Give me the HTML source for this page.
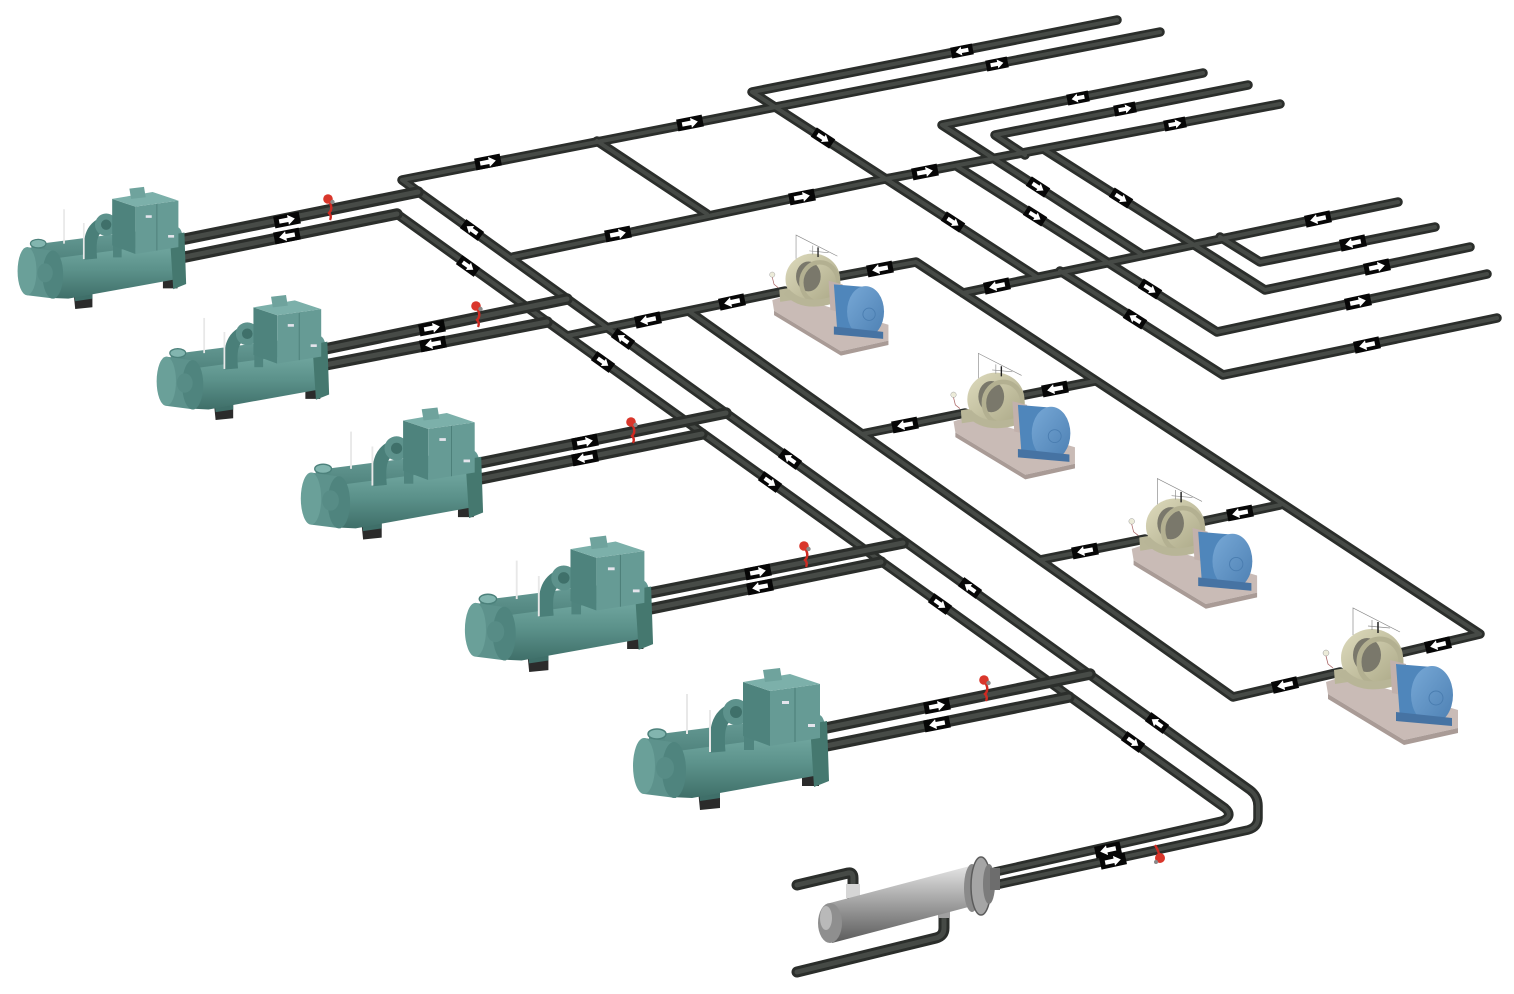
<!DOCTYPE html>
<html><head><meta charset="utf-8"><style>
html,body{margin:0;padding:0;background:#fff;}
svg{display:block;}
</style></head><body>
<svg width="1514" height="994" viewBox="0 0 1514 994" xmlns="http://www.w3.org/2000/svg">
<defs>
<linearGradient id="tg" x1="0" y1="0" x2="0" y2="1"><stop offset="0" stop-color="#74aaa3"/><stop offset=".5" stop-color="#5b918a"/><stop offset="1" stop-color="#3f6f69"/></linearGradient>
<linearGradient id="tb" x1="0" y1="0" x2="0" y2="1"><stop offset="0" stop-color="#6a9f99"/><stop offset="1" stop-color="#477a74"/></linearGradient>
<linearGradient id="st" x1="0" y1="0" x2="0" y2="1"><stop offset="0" stop-color="#e4e4e4"/><stop offset=".35" stop-color="#b3b3b3"/><stop offset="1" stop-color="#5a5a5a"/></linearGradient>
<linearGradient id="mo" x1="0" y1="0" x2="1" y2="1"><stop offset="0" stop-color="#77a8d6"/><stop offset="1" stop-color="#4d80b3"/></linearGradient>
<linearGradient id="ps" x1="0" y1="0" x2="1" y2="1"><stop offset="0" stop-color="#dedbbd"/><stop offset="1" stop-color="#a9a685"/></linearGradient>

<g id="ar"><rect x="-13" y="-6" width="26" height="12" fill="#060606"/><path d="M-8,-2.2 H1 V-5 L8,0 L1,5 V2.2 H-8Z" fill="#fff"/></g>
<g id="ars"><rect x="-11" y="-5.5" width="22" height="11" fill="#060606"/><path d="M-6.5,-2 H0.5 V-4.5 L6.5,0 L0.5,4.5 V2 H-6.5Z" fill="#fff"/></g>

<g id="va"><path d="M1,2 q3,6 -1,10 q3,3 1,7" stroke="#cf2a22" stroke-width="2.4" fill="none"/><circle cx="-1" cy="-2" r="4.8" fill="#d9362b"/><circle cx="3.5" cy="1" r="2.2" fill="#8a8a8a"/></g>

<g id="ch">
 <path d="M172,110 h17 v16 h-17z" fill="#2b2b2b"/>
 <path d="M68,130 L90,127 L90,148 L70,150Z" fill="#2b2b2b"/>
 <path d="M68,124 L90,121 L90,138 L70,141Z" fill="#3f6f69"/>
 <path d="M30,74 L186,54 Q195,54 195,70 L195,88 L38,106 Z" fill="url(#tb)"/>
 <path d="M19,74 h16 v20 h-16z" fill="#568b85"/>
 <ellipse cx="27" cy="74" rx="9" ry="5" fill="#82b5af" stroke="#4c817b" stroke-width="1.5"/>
 <path d="M40,92 L190,72 L195,76 L195,114 L62,138 L40,137 Z" fill="url(#tg)"/>
 <path d="M14,78 L42,82 L46,138 L14,134 Z" fill="#5d928c"/>
 <ellipse cx="44" cy="110" rx="12" ry="28" fill="#4f847e"/>
 <ellipse cx="35" cy="108" rx="9" ry="11" fill="#578c86"/>
 <ellipse cx="14" cy="106" rx="11" ry="28" fill="#6aa099"/>
 <path d="M180,64 L197,61 L199,121 L184,127 Z" fill="#45786f"/>
 <path d="M88,92 C86,70 88,56 104,50" stroke="#4a7f79" stroke-width="15" fill="none"/>
 <circle cx="106" cy="52" r="13" fill="#5d928c"/>
 <circle cx="106" cy="52" r="6" fill="#3f706a"/>
 <rect x="114" y="68" width="10" height="22" fill="#4f847e"/>
 <path d="M113,22 L140,31 L140,86 L113,76Z" fill="#4e837d"/>
 <path d="M140,31 L190,24 L190,78 L140,86Z" fill="#669b95"/>
 <path d="M113,22 L160,14 L190,24 L140,31Z" fill="#7cb0aa"/>
 <path d="M133,10 L150,8 L152,20 L135,22Z" fill="#6fa39d"/>
 <line x1="165" y1="28" x2="165" y2="82" stroke="#4b7d77" stroke-width="1"/>
 <rect x="152" y="41" width="7" height="3" fill="#e4e4ec"/>
 <rect x="178" y="64" width="7" height="3" fill="#e4e4ec"/>
 <line x1="57" y1="34" x2="57" y2="74" stroke="#e8e8e8" stroke-width="2"/>
 <line x1="80" y1="50" x2="80" y2="92" stroke="#e8e8e8" stroke-width="2"/>
</g>

<g id="pu">
 <path d="M6,82 L24,76 L138,110 L138,128 L84,140 L8,94Z" fill="#c9bbb6"/>
 <path d="M8,94 L84,140 L138,128 L138,133 L84,145 L8,99Z" fill="#a99b96"/>
 <path d="M14,70 L26,68 L28,82 L15,84Z" fill="#b9b698"/>
 <ellipse cx="52" cy="58" rx="31" ry="29" fill="url(#ps)"/>
 <ellipse cx="47" cy="55" rx="14" ry="17" fill="#7a786b"/>
 <ellipse cx="60" cy="62" rx="21" ry="23" fill="none" stroke="#b3b091" stroke-width="5"/>
 <path d="M22,72 Q40,92 74,82" stroke="#b8b597" stroke-width="8" fill="none"/>
 <path d="M70,60 L86,64 L86,96 L72,93Z" fill="#c2b1ac"/>
 <path d="M76,64 L112,67 L116,124 L80,119Z" fill="#4f86bb"/>
 <ellipse cx="112" cy="95" rx="21" ry="29" fill="url(#mo)"/>
 <circle cx="116" cy="98" r="7" fill="none" stroke="#4a7db0" stroke-width="1"/>
 <path d="M76,112 L132,118 L132,126 L76,121Z" fill="#4673a3"/>
 <path d="M33,35 V8 L80,32 M52,20 L52,30 M48,26 L70,28" stroke="#8a8a8a" stroke-width="0.7" fill="none"/>
 <line x1="58" y1="22" x2="58" y2="33" stroke="#222" stroke-width="1.5"/>
 <circle cx="6" cy="53" r="3" fill="#ecebd9" stroke="#999" stroke-width=".5"/>
 <path d="M6,56 L8,64 L13,68" stroke="#a66" fill="none" stroke-width="0.8"/>
</g>
</defs>

<rect width="1514" height="994" fill="#fff"/>

<!-- network pipes -->
<g fill="none" stroke-linecap="round" stroke-linejoin="round">
<g stroke="#2b2e2b" stroke-width="9.5">
 <path d="M1160,32 L402,180 L1250,790 Q1258,796 1258,806 L1258,818 Q1258,827 1248,830 L1000,884"/>
 <path d="M190,256 L397,214 L1225,808 Q1234,816 1222,821 L995,872"/>
 <path d="M1117,20 L752,92 L1037,277"/>
 <path d="M1203,73 L942,125 L1141,254"/>
 <path d="M1248,85 L995,135 L1025,155"/>
 <path d="M1280,104 L880,180 L513,257"/>
 <path d="M597,141 L707,214"/>
 <path d="M963,293 L1398,202"/>
 <path d="M1220,237 L1260,262 L1435,227"/>
 <path d="M1045,150 L1265,290 L1470,247"/>
 <path d="M958,167 L1217,332 L1487,274"/>
 <path d="M1060,271 L1223,375 L1497,318"/>
 <path d="M835,277 L916,262 L1480,634 L1400,653"/>
 <path d="M690,312 L1233,697 L1340,672"/>
 <path d="M785,291 L567,336"/>
 <path d="M965,413 L862,434"/>
 <path d="M1020,396 L1095,381"/>
 <path d="M1145,539 L1040,560"/>
 <path d="M1200,522 L1280,505"/>
 <path d="M797,885 L848,873 Q853,872 853,878 L853,900" stroke-width="11"/>
 <path d="M797,972 L936,938 Q944,936 944,928 L944,915" stroke-width="11"/>
</g>
<g stroke="#464a46" stroke-width="4">
 <path d="M1160,32 L402,180 L1250,790 Q1258,796 1258,806 L1258,818 Q1258,827 1248,830 L1000,884"/>
 <path d="M190,256 L397,214 L1225,808 Q1234,816 1222,821 L995,872"/>
 <path d="M1117,20 L752,92 L1037,277"/>
 <path d="M1203,73 L942,125 L1141,254"/>
 <path d="M1248,85 L995,135 L1025,155"/>
 <path d="M1280,104 L880,180 L513,257"/>
 <path d="M597,141 L707,214"/>
 <path d="M963,293 L1398,202"/>
 <path d="M1220,237 L1260,262 L1435,227"/>
 <path d="M1045,150 L1265,290 L1470,247"/>
 <path d="M958,167 L1217,332 L1487,274"/>
 <path d="M1060,271 L1223,375 L1497,318"/>
 <path d="M835,277 L916,262 L1480,634 L1400,653"/>
 <path d="M690,312 L1233,697 L1340,672"/>
 <path d="M785,291 L567,336"/>
 <path d="M965,413 L862,434"/>
 <path d="M1020,396 L1095,381"/>
 <path d="M1145,539 L1040,560"/>
 <path d="M1200,522 L1280,505"/>
 <path d="M797,885 L848,873 Q853,872 853,878 L853,900" stroke-width="5"/>
 <path d="M797,972 L936,938 Q944,936 944,928 L944,915" stroke-width="5"/>
</g>
<!-- chiller pipes -->
<g stroke="#2b2e2b" stroke-width="11.5">
 <path d="M185,239 L418,192"/><path d="M185,257 L397,214"/>
 <path d="M325,349 L567,299"/><path d="M325,365 L547,322"/>
 <path d="M480,463 L726,413"/><path d="M480,479 L702,434"/>
 <path d="M650,593 L903,543"/><path d="M650,609 L881,562"/>
 <path d="M826,728 L1090,674"/><path d="M826,746 L1069,697"/>
</g>
<g stroke="#474b47" stroke-width="5">
 <path d="M185,239 L418,192"/><path d="M185,257 L397,214"/>
 <path d="M325,349 L567,299"/><path d="M325,365 L547,322"/>
 <path d="M480,463 L726,413"/><path d="M480,479 L702,434"/>
 <path d="M650,593 L903,543"/><path d="M650,609 L881,562"/>
 <path d="M826,728 L1090,674"/><path d="M826,746 L1069,697"/>
</g>
</g>

<!-- arrows: x-direction right -->
<use href="#ars" transform="translate(997,64) rotate(-11)"/>
<use href="#ar" transform="translate(690,123) rotate(-11)"/>
<use href="#ar" transform="translate(488,162) rotate(-11)"/>
<use href="#ars" transform="translate(1125,109) rotate(-11)"/>
<use href="#ars" transform="translate(1175,124) rotate(-11)"/>
<use href="#ar" transform="translate(925,172) rotate(-11)"/>
<use href="#ar" transform="translate(802,197) rotate(-11)"/>
<use href="#ar" transform="translate(618,234) rotate(-11)"/>
<use href="#ar" transform="translate(1377,267) rotate(-12)"/>
<use href="#ar" transform="translate(1358,302) rotate(-12)"/>
<use href="#ar" transform="translate(287,220) rotate(-11)"/>
<use href="#ar" transform="translate(432,328) rotate(-11)"/>
<use href="#ar" transform="translate(585,442) rotate(-11)"/>
<use href="#ar" transform="translate(758,572) rotate(-11)"/>
<use href="#ar" transform="translate(937,706) rotate(-11)"/>
<use href="#ar" transform="translate(1113,861) rotate(-12)"/>
<!-- x-direction left -->
<use href="#ars" transform="translate(962,51) rotate(169)"/>
<use href="#ars" transform="translate(1078,98) rotate(169)"/>
<use href="#ar" transform="translate(1318,219) rotate(168)"/>
<use href="#ar" transform="translate(1353,243) rotate(168)"/>
<use href="#ar" transform="translate(1367,345) rotate(168)"/>
<use href="#ar" transform="translate(997,286) rotate(168)"/>
<use href="#ar" transform="translate(880,269) rotate(169)"/>
<use href="#ar" transform="translate(732,302) rotate(168)"/>
<use href="#ar" transform="translate(648,320) rotate(168)"/>
<use href="#ar" transform="translate(905,425) rotate(169)"/>
<use href="#ar" transform="translate(1055,389) rotate(169)"/>
<use href="#ar" transform="translate(1085,551) rotate(169)"/>
<use href="#ar" transform="translate(1240,513) rotate(169)"/>
<use href="#ar" transform="translate(1285,685) rotate(167)"/>
<use href="#ar" transform="translate(1438,645) rotate(167)"/>
<use href="#ar" transform="translate(287,236) rotate(169)"/>
<use href="#ar" transform="translate(433,344) rotate(169)"/>
<use href="#ar" transform="translate(585,458) rotate(169)"/>
<use href="#ar" transform="translate(760,587) rotate(169)"/>
<use href="#ar" transform="translate(937,724) rotate(169)"/>
<use href="#ar" transform="translate(1108,850) rotate(168)"/>
<!-- diagonal arrows -->
<use href="#ars" transform="translate(472,230) rotate(215.7)"/>
<use href="#ars" transform="translate(623,339) rotate(215.7)"/>
<use href="#ars" transform="translate(790,459) rotate(215.7)"/>
<use href="#ars" transform="translate(970,588) rotate(215.7)"/>
<use href="#ars" transform="translate(1157,723) rotate(215.7)"/>
<use href="#ars" transform="translate(468,266) rotate(35.6)"/>
<use href="#ars" transform="translate(603,362) rotate(35.6)"/>
<use href="#ars" transform="translate(770,482) rotate(35.6)"/>
<use href="#ars" transform="translate(940,604) rotate(35.6)"/>
<use href="#ars" transform="translate(1133,742) rotate(35.6)"/>
<use href="#ars" transform="translate(823,138) rotate(33)"/>
<use href="#ars" transform="translate(953,222) rotate(33)"/>
<use href="#ars" transform="translate(1038,187) rotate(33)"/>
<use href="#ars" transform="translate(1121,198) rotate(32.5)"/>
<use href="#ars" transform="translate(1035,216) rotate(32.5)"/>
<use href="#ars" transform="translate(1150,289) rotate(32.5)"/>
<use href="#ars" transform="translate(1135,319) rotate(212.5)"/>

<!-- chillers -->
<use href="#ch" transform="translate(15,180) scale(0.86)"/>
<use href="#ch" transform="translate(154,288) scale(0.88)"/>
<use href="#ch" transform="translate(298,400) scale(0.93)"/>
<use href="#ch" transform="translate(462,528) scale(0.96)"/>
<use href="#ch" transform="translate(630,660)"/>

<!-- pumps -->
<use href="#pu" transform="translate(767,228) scale(0.88)"/>
<use href="#pu" transform="translate(948,346) scale(0.92)"/>
<use href="#pu" transform="translate(1126,471) scale(0.95)"/>
<use href="#pu" transform="translate(1320,600)"/>

<!-- heat exchanger -->
<rect x="846" y="884" width="14" height="14" fill="#d6d6d6"/>
<rect x="938" y="906" width="12" height="12" fill="#a0a0a0"/>
<path d="M830,903 L970,866 L976,905 L832,943 Z" fill="url(#st)"/>
<ellipse cx="830" cy="923" rx="12" ry="20" fill="#8f8f8f"/>
<ellipse cx="826" cy="918" rx="6" ry="12" fill="#b9b9b9"/>
<ellipse cx="972" cy="888" rx="8" ry="24" fill="#8a8a8a"/>
<ellipse cx="981" cy="886" rx="10" ry="29" fill="#a5a5a5" stroke="#5c5c5c" stroke-width="1.5"/>
<ellipse cx="989" cy="884" rx="6" ry="20" fill="#7c7c7c"/>
<rect x="990" y="868" width="10" height="22" fill="#6d6d6d"/>

<!-- valves -->
<use href="#va" transform="translate(329,201)"/>
<use href="#va" transform="translate(477,308)"/>
<use href="#va" transform="translate(632,424)"/>
<use href="#va" transform="translate(805,548)"/>
<use href="#va" transform="translate(985,682)"/>
<g><path d="M1155,845 q3,5 4,9" stroke="#cf2a22" stroke-width="2.4" fill="none"/><circle cx="1160" cy="858" r="5" fill="#d9362b"/><circle cx="1156" cy="862" r="2" fill="#8a8a8a"/></g>
</svg>
</body></html>
